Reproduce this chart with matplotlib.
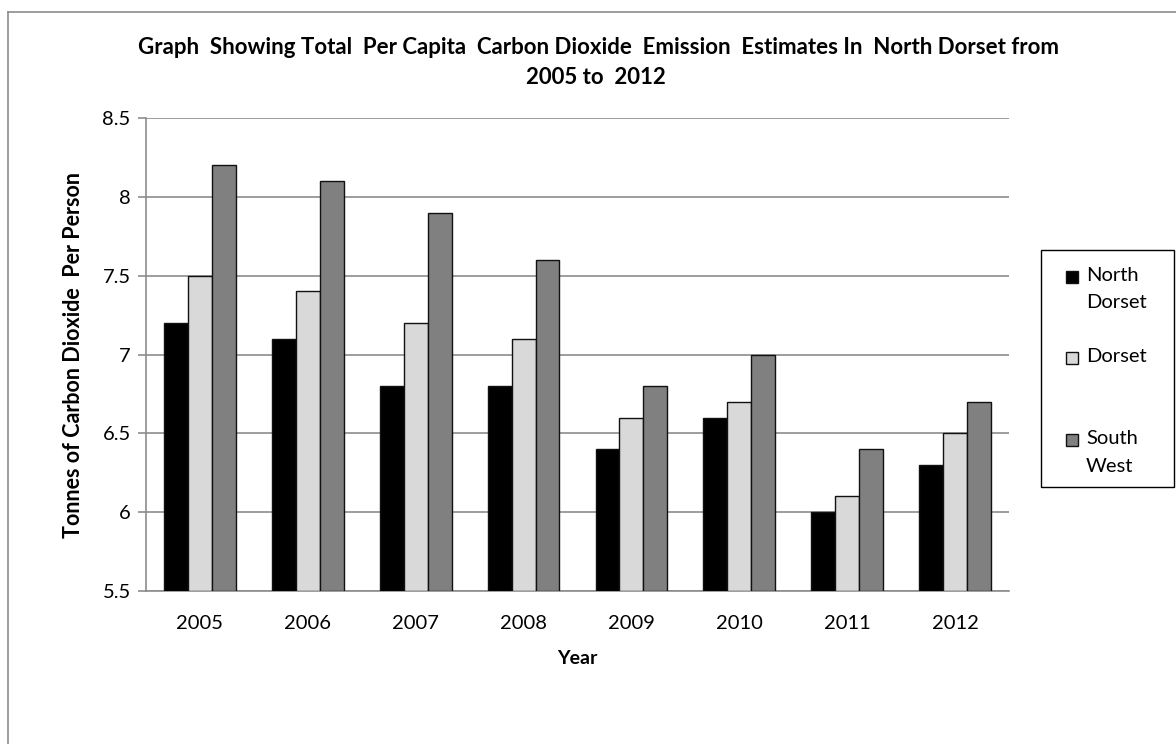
import numpy as np
import matplotlib.pyplot as plt
from matplotlib.patches import Rectangle
from matplotlib.lines import Line2D

plt.rcParams['font.family'] = ['Lato', 'DejaVu Sans']

years = ['2005', '2006', '2007', '2008', '2009', '2010', '2011', '2012']
north_dorset = [7.2, 7.1, 6.8, 6.8, 6.4, 6.6, 6.0, 6.3]
dorset = [7.5, 7.4, 7.2, 7.1, 6.6, 6.7, 6.1, 6.5]
south_west = [8.2, 8.1, 7.9, 7.6, 6.8, 7.0, 6.4, 6.7]

series_names = ['North\nDorset', 'Dorset', 'South\nWest']
series_colors = ['#000000', '#d9d9d9', '#808080']
grid_col = '#8c8c8c'

W, H = 1176, 744
fig = plt.figure(figsize=(W / 100, H / 100), dpi=100)

# plot area in pixel terms
px_l, px_r, px_t, px_b = 146, 1009, 118, 591
ax = fig.add_axes([px_l / W, 1 - px_b / H, (px_r - px_l) / W, (px_b - px_t) / H])

x = np.arange(len(years))
bw = 0.222
base = 5.5
for i, (vals, col) in enumerate(zip([north_dorset, dorset, south_west], series_colors)):
    heights = np.array(vals) - base
    ax.bar(x + (i - 1) * bw, heights, bw, bottom=base, color=col,
           edgecolor='#111111', linewidth=1.0, zorder=3)

ax.set_xlim(-0.5, len(years) - 0.5)
ax.set_ylim(5.5, 8.5)
ax.set_yticks(np.arange(5.5, 8.51, 0.5))
ax.set_yticklabels(['%g' % v for v in np.arange(5.5, 8.51, 0.5)])
ax.set_xticks(x)
ax.set_xticklabels(years)
ax.grid(axis='y', color=grid_col, linewidth=1.2, zorder=0)
ax.set_axisbelow(True)
for s in ['top', 'right']:
    ax.spines[s].set_visible(False)
for s in ['left', 'bottom']:
    ax.spines[s].set_color(grid_col)
    ax.spines[s].set_linewidth(1.2)
ax.tick_params(axis='y', length=6, width=1.2, color=grid_col, labelsize=14.5, pad=5)
ax.tick_params(axis='x', length=0, labelsize=14.5, pad=17)

ax.set_ylabel('Tonnes of Carbon Dioxide  Per Person', fontsize=15.5, fontweight='bold', labelpad=13)
ax.set_xlabel('Year', fontsize=14, fontweight='bold', labelpad=13)

fig.text(598 / W, 1 - 47 / H,
         'Graph  Showing Total  Per Capita  Carbon Dioxide  Emission  Estimates In  North Dorset from',
         ha='center', va='center', fontsize=16, fontweight='bold')
fig.text(596 / W, 1 - 78 / H, '2005 to  2012', ha='center', va='center',
         fontsize=16, fontweight='bold')

# chart frame (only left and top edges fall inside the image)
fig.add_artist(Line2D([8 / W, 8 / W], [0, 1 - 12 / H], color='#8c8c8c', lw=1.2))
fig.add_artist(Line2D([8 / W, 1], [1 - 12 / H, 1 - 12 / H], color='#8c8c8c', lw=1.2))

# legend box drawn by hand so the swatch sits beside the first line of each label
lx0, lx1, ly0, ly1 = 1041, 1174, 250, 487
fig.add_artist(Rectangle((lx0 / W, 1 - ly1 / H), (lx1 - lx0) / W, (ly1 - ly0) / H,
                         transform=fig.transFigure, facecolor='white',
                         edgecolor='#000000', linewidth=1.0))
entry_y = [277, 358, 440]
for name, col, yy in zip(series_names, series_colors, entry_y):
    fig.add_artist(Rectangle((1066 / W, 1 - (yy + 6) / H), 12 / W, 12 / H,
                             transform=fig.transFigure, facecolor=col,
                             edgecolor='#111111', linewidth=1.0))
    fig.text(1086 / W, 1 - (yy - 10) / H, name, ha='left', va='top',
             multialignment='left', fontsize=14.5, linespacing=1.75)

fig.savefig('out.png', dpi=100)
